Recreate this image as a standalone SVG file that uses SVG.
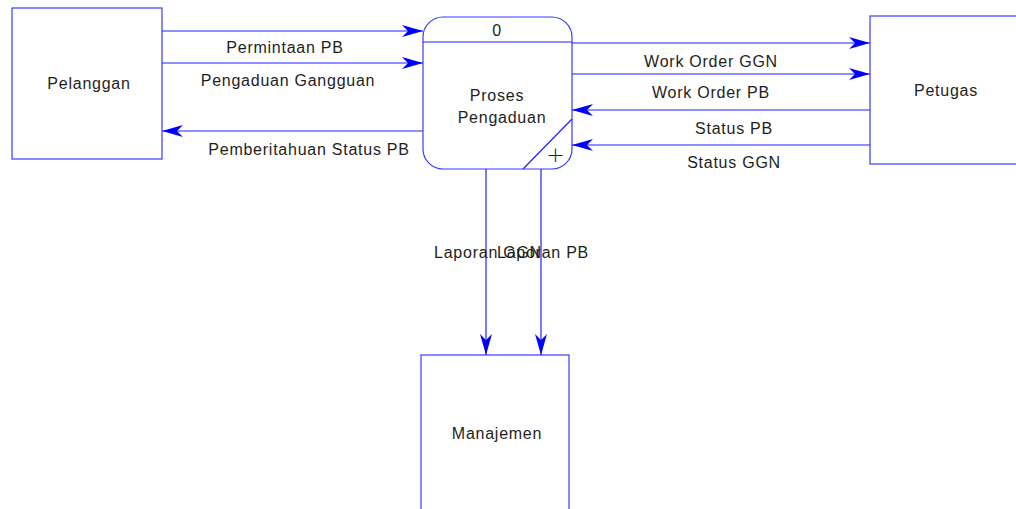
<svg xmlns="http://www.w3.org/2000/svg" width="1016" height="509" viewBox="0 0 1016 509">
  <style>
    .box { fill: #ffffff; stroke: #3a3aff; stroke-width: 1.2; }
    .flow { fill: none; stroke: #2020ff; stroke-width: 1.2; }
    .lbl { font-family: "Liberation Sans", Arial, sans-serif; font-size: 16px; letter-spacing: 0.75px; fill: #1e1e1e; text-anchor: middle; }
    .plus { font-family: "DejaVu Sans", sans-serif; font-size: 22px; font-weight: 200; fill: #1e1e1e; text-anchor: middle; }
  </style>
  <defs>
    <marker id="arr" viewBox="-22 -7 24 14" refX="0" refY="0" markerWidth="24" markerHeight="14" markerUnits="userSpaceOnUse" orient="auto">
      <path d="M0,0 L-21,-6 L-15,0 L-21,6 Z" fill="#0000ff"/>
    </marker>
  </defs>
  <rect width="1016" height="509" fill="#ffffff"/>

  <!-- external entities -->
  <g id="pelanggan">
    <rect class="box" x="12" y="8" width="150" height="151"/>
    <text class="lbl" x="89" y="89">Pelanggan</text>
  </g>
  <g id="petugas">
    <rect class="box" x="870" y="16" width="150" height="148"/>
    <text class="lbl" x="946" y="96">Petugas</text>
  </g>
  <g id="manajemen">
    <rect class="box" x="421" y="355" width="148" height="160"/>
    <text class="lbl" x="497" y="439">Manajemen</text>
  </g>

  <!-- process 0 -->
  <g id="proses-pengaduan">
    <rect class="box" x="423" y="17" width="149" height="152" rx="20" ry="20"/>
    <line class="flow" x1="423" y1="42" x2="572" y2="42"/>
    <line class="flow" x1="572" y1="119" x2="523" y2="169"/>
    <text class="lbl" x="497" y="36">0</text>
    <text class="lbl" x="497" y="101">Proses</text>
    <text class="lbl" x="502" y="123">Pengaduan</text>
    <text class="plus" x="555.5" y="162">+</text>
  </g>

  <!-- data flows -->
  <g id="connectors">
    <line class="flow" x1="162" y1="31" x2="423" y2="31" marker-end="url(#arr)"/>
    <line class="flow" x1="162" y1="63" x2="423" y2="63" marker-end="url(#arr)"/>
    <line class="flow" x1="423" y1="131" x2="162" y2="131" marker-end="url(#arr)"/>
    <line class="flow" x1="572" y1="43" x2="870" y2="43" marker-end="url(#arr)"/>
    <line class="flow" x1="572" y1="74" x2="870" y2="74" marker-end="url(#arr)"/>
    <line class="flow" x1="870" y1="110" x2="572" y2="110" marker-end="url(#arr)"/>
    <line class="flow" x1="870" y1="145" x2="572" y2="145" marker-end="url(#arr)"/>
    <line class="flow" x1="486" y1="169" x2="486" y2="355" marker-end="url(#arr)"/>
    <line class="flow" x1="541" y1="169" x2="541" y2="355" marker-end="url(#arr)"/>

    <text class="lbl" x="285" y="53">Permintaan PB</text>
    <text class="lbl" x="288" y="86">Pengaduan Gangguan</text>
    <text class="lbl" x="309" y="155">Pemberitahuan Status PB</text>
    <text class="lbl" x="711" y="67">Work Order GGN</text>
    <text class="lbl" x="711" y="98">Work Order PB</text>
    <text class="lbl" x="734" y="134">Status PB</text>
    <text class="lbl" x="734" y="168">Status GGN</text>
    <text class="lbl" x="488" y="258">Laporan GGN</text>
    <text class="lbl" x="543" y="258">Laporan PB</text>
  </g>
</svg>
